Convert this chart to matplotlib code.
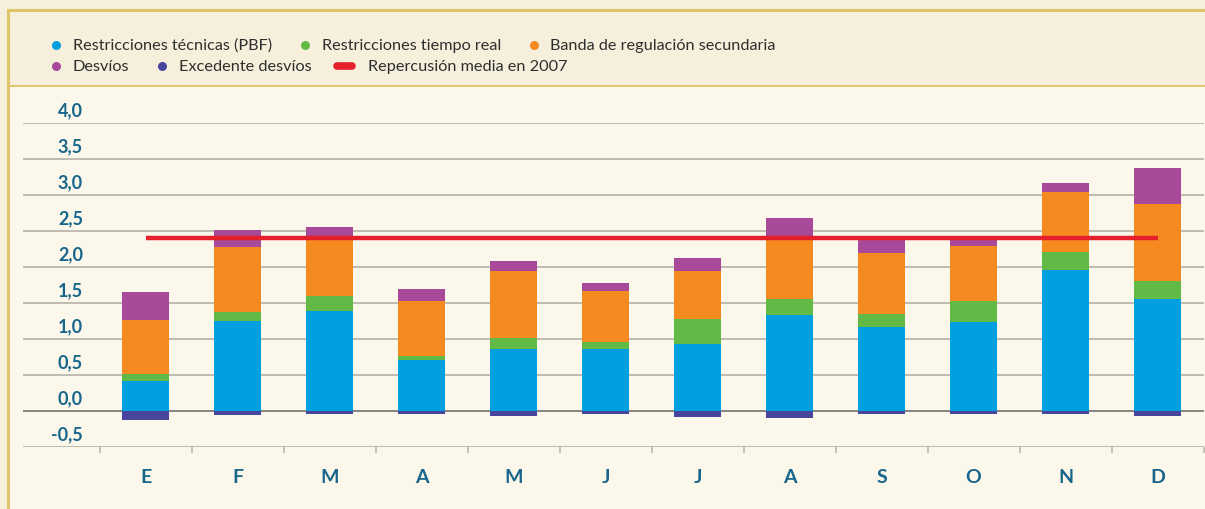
import numpy as np
import matplotlib
matplotlib.use("Agg")
import matplotlib.pyplot as plt
from matplotlib.patches import Rectangle
from matplotlib.lines import Line2D
from matplotlib.transforms import ScaledTranslation

# ---------------- data ----------------
months = ['E', 'F', 'M', 'A', 'M', 'J', 'J', 'A', 'S', 'O', 'N', 'D']
tecnicas = [0.42, 1.25, 1.39, 0.71, 0.86, 0.86, 0.93, 1.33, 1.17, 1.24, 1.96, 1.56]
tiempo_real = [0.10, 0.13, 0.21, 0.06, 0.15, 0.10, 0.35, 0.22, 0.18, 0.29, 0.25, 0.24]
banda = [0.74, 0.90, 0.78, 0.76, 0.93, 0.70, 0.67, 0.88, 0.85, 0.76, 0.83, 1.07]
desvios = [0.39, 0.23, 0.17, 0.16, 0.15, 0.12, 0.17, 0.25, 0.20, 0.13, 0.13, 0.50]
excedente = [-0.125, -0.056, -0.040, -0.042, -0.069, -0.042, -0.083, -0.097, -0.042, -0.042, -0.042, -0.069]
media_2007 = 2.40
ytick_vals = [-0.5, 0.0, 0.5, 1.0, 1.5, 2.0, 2.5, 3.0, 3.5, 4.0]
ytick_labels = ['-0,5', '0,0', '0,5', '1,0', '1,5', '2,0', '2,5', '3,0', '3,5', '4,0']
series_names = ['Restricciones técnicas (PBF)', 'Restricciones tiempo real',
                'Banda de regulación secundaria', 'Desvíos', 'Excedente desvíos',
                'Repercusión media en 2007']

# ---------------- style ----------------
C_BLUE = '#009fdf'
C_GREEN = '#61b946'
C_ORANGE = '#f58a20'
C_PURPLE = '#a9499a'
C_NAVY = '#48469c'
C_RED = '#e4202a'
C_TEAL = '#17658a'
BG_OUT = '#f6efdb'
BG_IN = '#fbf7ea'
GOLD = '#dfc46a'
GRID = '#b9b6ac'

W, H = 1205, 509
fig = plt.figure(figsize=(W / 100, H / 100), dpi=100, facecolor=BG_OUT)

def px(x, y):
    return x / W, 1 - y / H

# chart area background and frame lines
fig.add_artist(Rectangle((8 / W, 0), 1 - 8 / W, (H - 86) / H, transform=fig.transFigure,
                         facecolor=BG_IN, edgecolor='none', zorder=0))
fig.add_artist(Line2D([8 / W, 8 / W], [0, 1 - 10 / H], transform=fig.transFigure, color=GOLD, lw=2.2))
fig.add_artist(Line2D([8 / W, 1], [1 - 10 / H, 1 - 10 / H], transform=fig.transFigure, color=GOLD, lw=2.2))
fig.add_artist(Line2D([8 / W, 1], [1 - 86 / H, 1 - 86 / H], transform=fig.transFigure, color=GOLD, lw=1.4))

ax_left, ax_right = 23, 1203.5
ax_top, ax_bot = 123, 447
ax = fig.add_axes([ax_left / W, (H - ax_bot) / H, (ax_right - ax_left) / W, (ax_bot - ax_top) / H])
ax.set_facecolor('none')

x = np.arange(len(months))
width = 0.51
tec = np.array(tecnicas)
tr = np.array(tiempo_real)
bd = np.array(banda)
dv = np.array(desvios)

ax.bar(x, tec, width, color=C_BLUE, zorder=3)
ax.bar(x, tr, width, bottom=tec, color=C_GREEN, zorder=3)
ax.bar(x, bd, width, bottom=tec + tr, color=C_ORANGE, zorder=3)
ax.bar(x, dv, width, bottom=tec + tr + bd, color=C_PURPLE, zorder=3)
ax.bar(x, excedente, width, color=C_NAVY, zorder=3)
ax.plot([x[0], x[-1]], [media_2007, media_2007], color=C_RED, lw=3.2, zorder=5,
        solid_capstyle='butt')

ax.set_xlim((ax_left - 145.5) / 92, (ax_right - 145.5) / 92)
ax.set_ylim(-0.5, 4.0)

for v in ytick_vals:
    ax.axhline(v, color=('#7d7c78' if v == 0 else GRID), lw=1.3, zorder=1)

for s in ax.spines.values():
    s.set_visible(False)

ax.set_yticks(ytick_vals)
ax.set_yticklabels(ytick_labels, fontsize=13, fontweight='bold', color=C_TEAL, family='Lato')
ax.tick_params(axis='y', length=0, pad=0)
off = ScaledTranslation(60 / 100, 14 / 100, fig.dpi_scale_trans)
for lab in ax.get_yticklabels():
    lab.set_transform(lab.get_transform() + off)

ax.set_xticks(x)
ax.set_xticklabels(months, fontsize=14, fontweight='bold', color=C_TEAL, family='Lato')
ax.set_xticks(np.arange(-0.5, len(months)), minor=True)
ax.tick_params(axis='x', which='major', length=0, pad=16)
ax.tick_params(axis='x', which='minor', length=4, width=1.2, color=GRID, direction='out')

# legends
fs = 11.7
def circ(c):
    return Line2D([], [], ls='none', marker='o', markersize=6.5, markerfacecolor=c, markeredgecolor='none')
red_h = Line2D([], [], color=C_RED, lw=5.5, solid_capstyle='round')
kw = dict(frameon=False, handlelength=1.15, handletextpad=0.45, columnspacing=1.45,
          borderpad=0, borderaxespad=0, loc='center left',
          prop={'family': 'Lato', 'size': fs})
legs = []
legs.append(fig.legend([circ(C_BLUE), circ(C_GREEN), circ(C_ORANGE)], series_names[:3],
                       bbox_to_anchor=px(47, 46), ncol=3, **kw))
legs.append(fig.legend([circ(C_PURPLE), circ(C_NAVY)], series_names[3:5],
                       bbox_to_anchor=px(47, 67), ncol=2, **kw))
kw_red = dict(kw)
kw_red.update(handlelength=0.9, handletextpad=1.0)
legs.append(fig.legend([red_h], series_names[5:], bbox_to_anchor=px(337, 67), ncol=1, **kw_red))
for lg in legs:
    for t in lg.get_texts():
        t.set_color('#2e2e2e')

fig.savefig('out.png', dpi=100, facecolor=BG_OUT)
